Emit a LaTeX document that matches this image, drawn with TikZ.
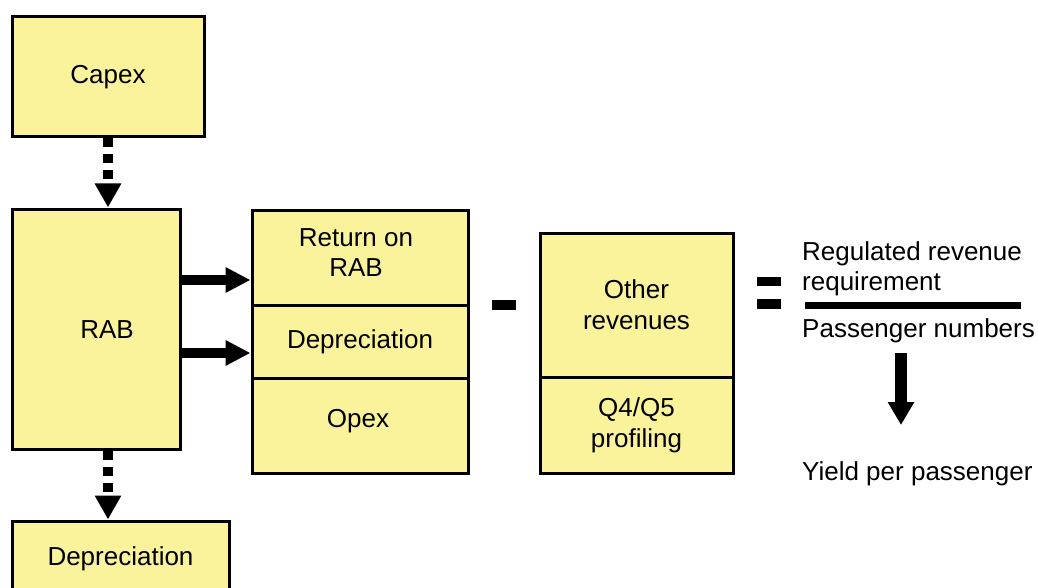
\documentclass[tikz,border=0pt]{standalone}
\usepackage{fontspec}
\setmainfont{Liberation Sans}
\usetikzlibrary{arrows.meta}
\definecolor{yel}{RGB}{250,243,155}
\begin{document}
\begin{tikzpicture}[x=1pt,y=-1pt,
 box/.style={draw=black,line width=3pt,fill=yel,inner sep=0pt,align=center,font=\fontsize{26}{31}\selectfont},
 txt/.style={inner sep=0pt,align=center,font=\fontsize{26}{30}\selectfont},
 dotarrow/.style={line width=10pt,dash pattern=on 9pt off 7pt,-{Triangle[width=25pt,length=24pt]}},
 harrow/.style={line width=10pt,-{Triangle[width=24pt,length=25pt]}},
 varrow/.style={line width=12pt,-{Triangle[width=25pt,length=23pt]}},
 bar/.style={fill=black}]
\useasboundingbox (0,0) rectangle (1038,588);
\clip (0,0) rectangle (1038,588);

% left column
\node[box,minimum width=192pt,minimum height=120pt] (capex) at (108,77) {Capex};
\node[box,minimum width=168pt,minimum height=240pt] (rab) at (96,329) {};
\node[txt] (rabt) at (107,330) {RAB};
\node[box,minimum width=217pt,minimum height=76pt] (depb) at (120.5,559) {Depreciation};

\draw[dotarrow] (capex.south -| 108,0) -- (rab.north -| 108,0);
\draw[dotarrow] (rab.south -| 108,0) -- (depb.north -| 108,0);

% middle stack
\node[box,minimum width=216pt,minimum height=95pt] (ret) at (360,257.5) {};
\node[txt] (rett) at (356,253) {Return on\\RAB};
\node[box,minimum width=216pt,minimum height=73pt] (dep) at (360,341.5) {Depreciation};
\node[box,minimum width=216pt,minimum height=95pt] (opex) at (360,425.5) {};
\node[txt] (opext) at (358,421) {Opex};

\draw[harrow] (rab.east |- 0,280) -- (ret.west |- 0,280);
\draw[harrow] (rab.east |- 0,353) -- (dep.west |- 0,353);

% minus
\fill[bar] (492,300) rectangle (516,310);

% other revenues stack
\node[box,minimum width=193pt,minimum height=144pt] (oth) at (636.5,305) {Other\\revenues};
\node[box,minimum width=193pt,minimum height=96pt] (q45) at (636.5,425) {Q4/Q5\\profiling};

% equals
\fill[bar] (757,277) rectangle (781,286);
\fill[bar] (757,299) rectangle (781,309);

% fraction
\node[txt,align=left,anchor=west] (rrr) at (802,269) {Regulated revenue\\requirement};
\fill[bar] (805,302) rectangle (1021,309);
\node[txt,anchor=west] (pax) at (802,331) {Passenger numbers};
\coordinate (d1) at (901,353);
\coordinate (d2) at (901,425);
\draw[varrow] (d1) -- (d2);
\node[txt,anchor=west] (yld) at (802,474) {Yield per passenger};
\end{tikzpicture}
\end{document}
